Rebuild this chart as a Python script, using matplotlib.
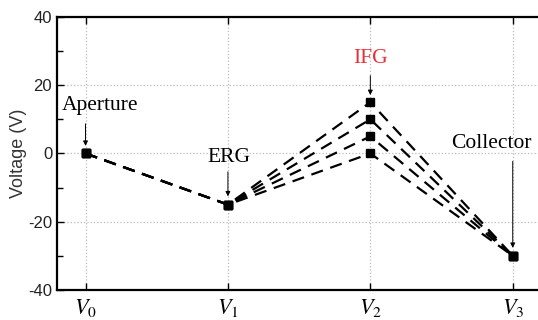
import matplotlib
matplotlib.use("Agg")
import matplotlib.pyplot as plt
from matplotlib.ticker import MultipleLocator

plt.rcParams['mathtext.fontset'] = 'stix'
plt.rcParams['font.family'] = 'Liberation Sans'
plt.rcParams['axes.unicode_minus'] = False

# electrode positions and voltages
stages = [0, 1, 2, 3]
stage_labels = ['$V_0$', '$V_1$', '$V_2$', '$V_3$']
v_aperture = 0
v_erg = -15
v_ifg = [0, 5, 10, 15]
v_collector = -30

fig = plt.figure(figsize=(5.38, 3.2), dpi=100)
ax = fig.add_axes([0.106, 0.094, 0.9, 0.853])

for v in v_ifg:
  ax.plot(stages, [v_aperture, v_erg, v, v_collector], linestyle=(0, (5.5, 3.5)),
          linewidth=1.6, color='black', marker='s', markersize=5.5)

ax.set_xlim(-0.2, 3.2)
ax.set_ylim(-40, 40)
ax.set_xticks(stages)
ax.set_xticklabels(stage_labels, fontsize=16)
ax.yaxis.set_major_locator(MultipleLocator(20))
ax.yaxis.set_minor_locator(MultipleLocator(10))
ax.tick_params(axis='y', which='both', direction='in', labelsize=12, labelcolor='#222222')
ax.tick_params(axis='y', which='major', length=5, width=1)
ax.tick_params(axis='y', which='minor', length=4, width=1)
ax.tick_params(axis='x', direction='in', length=5, width=1, top=True, pad=5)
ax.set_ylabel('Voltage (V)', fontsize=13, color='#333333', labelpad=1)
ax.grid(True, linestyle=':', color='#bbbbbb', linewidth=0.9)
for sp in ax.spines.values():
  sp.set_linewidth(1.6)

# labels and arrows
serif = 'Liberation Serif'
arrow = dict(arrowstyle='-|>', color='black', linewidth=0.7, mutation_scale=7)
ax.text(0.105, 14, 'Aperture', family=serif, fontsize=15.5, ha='center', va='center')
ax.annotate('', xy=(0, 1.4), xytext=(0, 9.5), arrowprops=arrow)
ax.text(1.01, -1.2, 'ERG', family=serif, fontsize=15.5, ha='center', va='center')
ax.annotate('', xy=(1, -13.4), xytext=(1, -4.6), arrowprops=arrow)
ax.text(2, 27.8, 'IFG', family=serif, fontsize=15.5, ha='center', va='center', color='#e8303a')
ax.annotate('', xy=(2, 16.3), xytext=(2, 23.6), arrowprops=arrow)
ax.text(2.85, 2.9, 'Collector', family=serif, fontsize=15.5, ha='center', va='center')
ax.annotate('', xy=(3, -28.5), xytext=(3, -1.5), arrowprops=arrow)

fig.savefig('out.png', dpi=100)
